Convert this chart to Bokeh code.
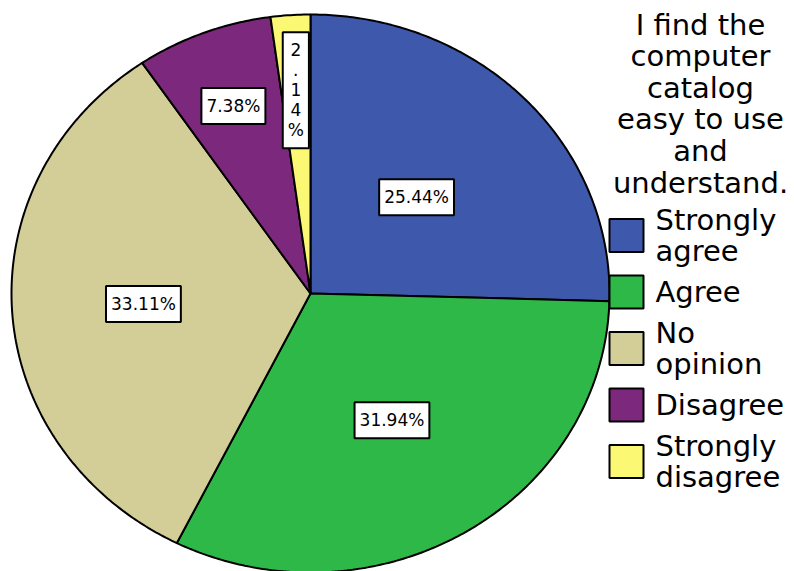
import numpy as np
from bokeh.plotting import figure
from bokeh.models import ColumnDataSource, Range1d
from bokeh.core.properties import value
from bokeh.embed import file_html
from bokeh.resources import INLINE

# ---- data ----
categories = ["Strongly agree", "Agree", "No opinion", "Disagree", "Strongly disagree"]
legend_labels = ["Strongly\nagree", "Agree", "No\nopinion", "Disagree", "Strongly\ndisagree"]
percentages = [25.44, 31.94, 33.11, 7.38, 2.14]
slice_labels = ["25.44%", "31.94%", "33.11%", "7.38%", "2\n.\n1\n4\n%"]
legend_title = "I find the\ncomputer\ncatalog\neasy to use\nand\nunderstand."

# ---- style / layout ----
colors = ["#3E58AC", "#2EB848", "#D3CE97", "#7C287D", "#FBF873"]
label_radius = [0.495, 0.53, 0.56, 0.72, 0.73]
FONT = "DejaVu Sans"
W, H = 794, 571
CX, CY, RX, RY = 310, 293, 299, 279

vals = np.array(percentages, dtype=float)
frac = vals / vals.sum()
ends = np.cumsum(frac) * 2 * np.pi
starts = ends - frac * 2 * np.pi

xs, ys, lx, ly = [], [], [], []
for s, e, f in zip(starts, ends, label_radius):
    t = np.linspace(s, e, max(int((e - s) / 0.01), 4))
    xs.append([CX] + list(CX + RX * np.sin(t)) + [CX])
    ys.append([CY] + list(CY - RY * np.cos(t)) + [CY])
    m = (s + e) / 2
    lx.append(CX + f * RX * np.sin(m))
    ly.append(CY - f * RY * np.cos(m))

pie_src = ColumnDataSource(dict(xs=xs, ys=ys, color=colors, cat=categories))
lab_src = ColumnDataSource(dict(x=lx, y=ly, text=slice_labels))

p = figure(width=W, height=H, output_backend="svg", toolbar_location=None,
           x_range=Range1d(0, W), y_range=Range1d(H, 0), min_border=0)
p.axis.visible = False
p.grid.visible = False
p.outline_line_color = None
p.background_fill_color = "white"

p.patches("xs", "ys", source=pie_src, fill_color="color", line_color="black", line_width=2)

p.text("x", "y", text="text", source=lab_src, text_font=value(FONT), text_font_size="17px",
       text_align="center", text_baseline="middle", text_color="black", text_line_height=1.0,
       background_fill_color="white", border_line_color="black", border_line_width=2,
       padding=dict(left=5, right=5, top=8, bottom=8))

# legend title
p.text(x=[700], y=[7], text=[legend_title], text_font=value(FONT), text_font_size="29px",
       text_align="center", text_baseline="top", text_color="black", text_line_height=0.93)

# legend items
idx = np.arange(len(categories))
leg_y = 235 + idx * 56.5
leg_src = ColumnDataSource(dict(x=[626] * len(idx), y=leg_y, color=colors,
                                tx=[655] * len(idx), text=legend_labels))
p.rect("x", "y", width=34, height=33, source=leg_src, fill_color="color",
       line_color="black", line_width=2)
p.text("tx", "y", text="text", source=leg_src, text_font=value(FONT), text_font_size="29px",
       text_align="left", text_baseline="middle", text_color="black", text_line_height=0.89)

open("out.html", "w").write(file_html(p, INLINE))
